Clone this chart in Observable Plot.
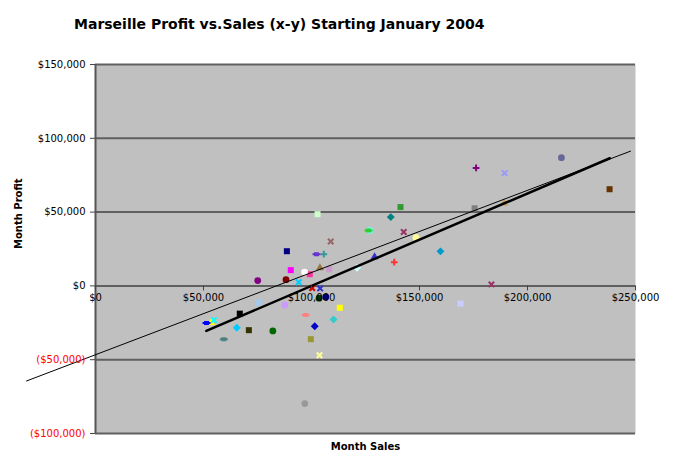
<!DOCTYPE html>
<html><head><meta charset="utf-8">
<script src="https://cdn.jsdelivr.net/npm/d3@7"></script>
<script src="https://cdn.jsdelivr.net/npm/@observablehq/plot@0.6"></script>
<style>
body{margin:0;background:#fff;font-family:"DejaVu Sans",Verdana,sans-serif;}
#wrap{position:relative;width:682px;height:466px;}
#title{position:absolute;left:74px;top:16px;font-weight:bold;font-size:14px;white-space:nowrap;color:#000;}
</style></head><body>
<div id="wrap"><div id="title">Marseille Profit vs.Sales (x-y) Starting January 2004</div></div>
<script>
// Monthly points (sales, profit)
const sales = [102800, 88600, 102300, 105700, 90400, 96800, 99200, 103900, 108200, 75100,
  88200, 94100, 100300, 104000, 103500, 106600, 113100, 97300, 110200, 101500,
  99700, 103700, 96900, 75600, 87600, 66800, 51400, 53600, 54800, 65400,
  71000, 82100, 59400, 141200, 136700, 126900, 126400, 108900, 142700, 148400,
  129200, 138300, 121100, 159700, 176200, 189400, 215700, 175500, 189200, 238000,
  183300, 169000];
const profit = [48600, 23500, 21500, 21500, 10700, 9400, 7900, 12200, 11300, 3600,
  4200, 2500, -1400, -1700, -8300, -7500, -14800, -19800, -22800, -27300,
  -36100, -47000, -79700, -11300, -12900, -18800, -25100, -24900, -23200, -28300,
  -30000, -30500, -36100, 53400, 46600, 37600, 37500, 30100, 36500, 32700,
  19600, 16100, 12300, 23400, 79900, 76400, 86900, 52600, 56000, 65500,
  1000, -12000];
const seriesColors = ["#ccffcc", "#000080", "#6633cc", "#339999", "#ff00ff", "#ffffff", "#ff3399", "#997744", "#cc99cc", "#800080",
  "#800000", "#00ccff", "#cc0000", "#3333cc", "#003300", "#000080", "#ffff00", "#ff8080", "#33cccc", "#0000cc",
  "#999933", "#ffff99", "#999999", "#99ccff", "#cc99ff", "#000000", "#0000ff", "#ffff00", "#00ffff", "#00ccff",
  "#333300", "#006600", "#4d8080", "#339933", "#008080", "#66ffee", "#33cc33", "#996666", "#993366", "#ffff99",
  "#3333cc", "#ff3333", "#ccffff", "#0099cc", "#800080", "#9999ff", "#666699", "#808080", "#cc9955", "#663300",
  "#993366", "#ccccff"];
const seriesSymbols = ["square", "square", "dash", "plus", "square", "circle", "square", "triangle", "square", "circle",
  "circle", "times", "times", "times", "circle", "circle", "square", "dash", "diamond", "diamond",
  "square", "times", "circle", "times", "circle", "square", "dash", "triangle", "times", "diamond",
  "square", "circle", "dash", "square", "diamond", "circle", "dash", "times", "times", "circle",
  "triangle", "plus", "diamond", "diamond", "plus", "times", "circle", "square", "triangle", "square",
  "times", "square"];

// Trend lines (endpoints)
const trendSales = [-31900, 247700];
const trendProfit = [-64400, 91300];
const fitSales = [51300, 238100];
const fitProfit = [-30500, 86500];

const xTicks = [0, 50000, 100000, 150000, 200000, 250000];
const yTicks = [-100000, -50000, 0, 50000, 100000, 150000];

const num = d3.format(",");
const fmtY = d => d < 0 ? `($${num(-d)})` : `$${num(d)}`;
const fmtX = d => `$${num(d)}`;

const dashSymbol = {draw(ctx, size) { const w = Math.sqrt(size) * 0.7; ctx.moveTo(-w, 0); ctx.lineTo(w, 0); ctx.moveTo(-1.5, -1); ctx.lineTo(1.5, -1); ctx.lineTo(1.5, 1); ctx.lineTo(-1.5, 1); ctx.closePath(); }};
const diamondSymbol = {draw(ctx, size) { const h = Math.sqrt(size) * 0.66; ctx.moveTo(0, -h); ctx.lineTo(h, 0); ctx.lineTo(0, h); ctx.lineTo(-h, 0); ctx.closePath(); }};
const idx = d3.range(sales.length);
const filled = ["square", "circle", "diamond", "triangle"];
const stroked = ["times", "plus", "dash"];

const dotMarks = [];
for (const s of filled) {
  dotMarks.push(Plot.dot(idx.filter(i => seriesSymbols[i] === s), {
    x: i => sales[i], y: i => profit[i], fill: i => seriesColors[i],
    symbol: s === "diamond" ? diamondSymbol : s, r: s === "triangle" ? 3.0 : 3.4, stroke: "none"
  }));
}
for (const s of stroked) {
  dotMarks.push(Plot.dot(idx.filter(i => seriesSymbols[i] === s), {
    x: i => sales[i], y: i => profit[i], stroke: i => seriesColors[i], fill: "none",
    symbol: s === "dash" ? dashSymbol : s, r: s === "times" ? 2.6 : (s === "plus" ? 2.3 : 3.2), strokeWidth: 2
  }));
}

const chart = Plot.plot({
  width: 682, height: 466,
  marginLeft: 95, marginRight: 47, marginTop: 64, marginBottom: 33,
  style: {fontFamily: "DejaVu Sans, Verdana, sans-serif", fontSize: "10px", background: "transparent", overflow: "visible"},
  x: {domain: [0, 250000], axis: null},
  y: {domain: [-100000, 150000], axis: null},
  color: {type: "identity"},
  marks: [
    Plot.frame({fill: "#c0c0c0", stroke: "none"}),
    Plot.gridY(yTicks, {stroke: "#606060", strokeOpacity: 1, strokeWidth: 2}),
    Plot.ruleX([0], {stroke: "#555", strokeWidth: 2}),
    ...dotMarks,
    Plot.line(d3.range(trendSales.length), {x: i => trendSales[i], y: i => trendProfit[i], stroke: "#000", strokeWidth: 1}),
    Plot.line(d3.range(fitSales.length), {x: i => fitSales[i], y: i => fitProfit[i], stroke: "#000", strokeWidth: 2.5}),
    Plot.ruleY(yTicks, {y: d => d, x1: 0, x2: 0, insetLeft: -5, stroke: "#444", strokeWidth: 1}),
    Plot.ruleX(xTicks, {x: d => d, y1: 0, y2: 0, insetBottom: -5, stroke: "#444", strokeWidth: 1}),
    Plot.text(yTicks, {x: 0, y: d => d, text: fmtY, textAnchor: "end", dx: -10, fill: d => d < 0 ? "#ff0000" : "#000000", fontSize: 10}),
    Plot.text(xTicks, {x: d => d, y: 0, text: fmtX, dy: 12, fill: "#000", fontSize: 10}),
    Plot.text(["Month Profit"], {frameAnchor: "left", text: d => d, dx: -77, rotate: -90, fontWeight: "bold", fontSize: 10}),
    Plot.text(["Month Sales"], {frameAnchor: "bottom", text: d => d, dy: 16, fontWeight: "bold", fontSize: 10})
  ]
});
document.getElementById("wrap").prepend(chart);
</script>
</body></html>
